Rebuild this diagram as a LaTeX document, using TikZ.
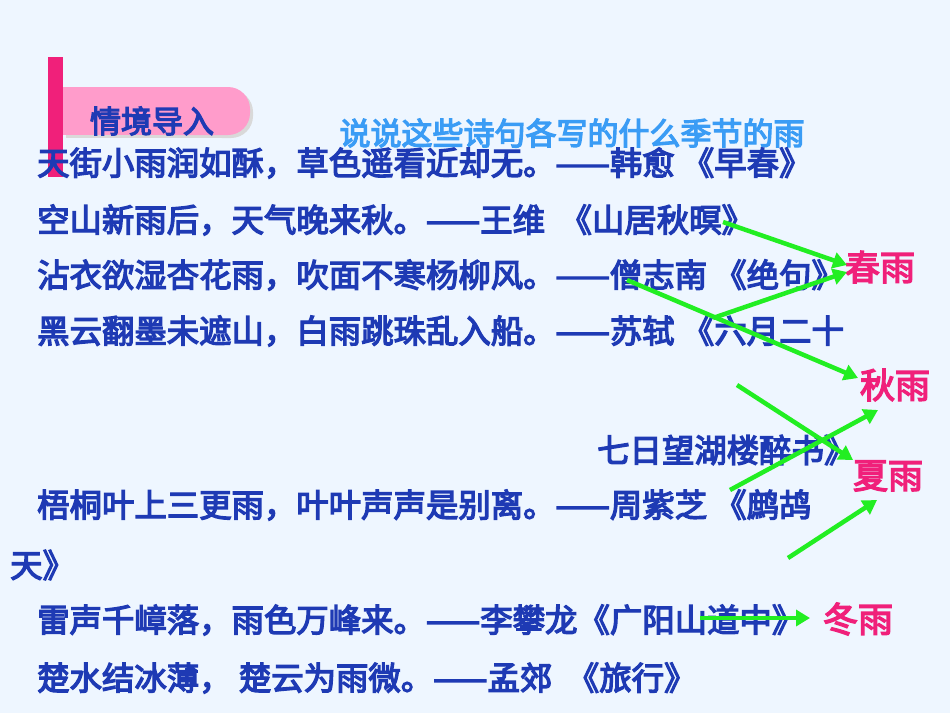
\documentclass[tikz,border=0pt]{standalone}
\usepackage{fontspec}
\newfontfamily\cjk{Noto Sans CJK SC}[FakeBold=4]
\usetikzlibrary{arrows.meta}
\definecolor{bg}{HTML}{EEF6FF}
\definecolor{txt}{HTML}{1E3AB4}
\definecolor{rose}{HTML}{F0207A}
\definecolor{pinkbox}{HTML}{FF9CCB}
\definecolor{lblue}{HTML}{3A9CF5}
\definecolor{grn}{HTML}{22EE22}
\tikzset{
  poem/.style={anchor=west,inner sep=0pt,text=txt,font=\cjk\fontsize{32.4}{33}\selectfont},
  season/.style={inner sep=0pt,text=rose,font=\cjk\fontsize{35}{36}\selectfont},
  arr/.style={draw=grn,line width=4.5pt,-{Triangle[length=14pt,width=16pt]}}
}
\begin{document}
\begin{tikzpicture}[x=1pt,y=-1pt]
\fill[bg] (0,0) rectangle (950,713);
\useasboundingbox (0,0) rectangle (950,713);
\fill[gray!30] (66,90) rectangle (230,138);
\fill[gray!30,rounded corners=22pt] (200,90) rectangle (253,138);
\fill[pinkbox,rounded corners=22pt] (150,87) rectangle (250,135);
\fill[pinkbox] (63,87) rectangle (200,135);
\fill[rose] (48,57) rectangle (63,177);
\node[text=txt,font=\cjk\fontsize{31}{32}\selectfont,inner sep=0pt] (hd) at (152,121) {情境导入};
\node[text=lblue,font=\cjk\fontsize{31}{32}\selectfont,inner sep=0pt] (q) at (572,133) {说说这些诗句各写的什么季节的雨};
\node[poem] (l1) at (37,163) {天街小雨润如酥，草色遥看近却无。——韩愈 《早春》};
\node[poem] (l2) at (37,220) {空山新雨后，天气晚来秋。——王维\ \ 《山居秋暝》};
\node[poem] (l3) at (37,275) {沾衣欲湿杏花雨，吹面不寒杨柳风。——僧志南 《绝句》};
\node[poem] (l4) at (37,331) {黑云翻墨未遮山，白雨跳珠乱入船。——苏轼 《六月二十};
\node[poem] (l5) at (597,450) {七日望湖楼醉书》};
\node[poem] (l6) at (37,505) {梧桐叶上三更雨，叶叶声声是别离。——周紫芝 《鹧鸪};
\node[poem] (l7) at (10,565) {天》};
\node[poem] (l8) at (37,620) {雷声千嶂落，雨色万峰来。——李攀龙《广阳山道中》};
\node[poem] (l9) at (37,678) {楚水结冰薄，\ 楚云为雨微。——孟郊\ \ 《旅行》};
\node[season] (chun) at (880,267) {春雨};
\node[season] (qiu) at (895,385) {秋雨};
\node[season] (xia) at (888,476) {夏雨};
\node[season] (dong) at (858,619) {冬雨};
\coordinate (a1) at (723,222); \coordinate (a2) at (713,318);
\coordinate (a3) at (627,280); \coordinate (a4) at (737,385);
\coordinate (a5) at (730,490); \coordinate (a6) at (788,558);
\coordinate (a7) at (700,618);
\coordinate (e1) at (847,265); \coordinate (e2) at (847,272);
\coordinate (e3) at (858,378); \coordinate (e4) at (853,460);
\coordinate (e5) at (878,410); \coordinate (e6) at (877,500);
\coordinate (e7) at (810,618);
\draw[arr] (a1) -- (e1);
\draw[arr] (a2) -- (e2);
\draw[arr] (a3) -- (e3);
\draw[arr] (a4) -- (e4);
\draw[arr] (a5) -- (e5);
\draw[arr] (a6) -- (e6);
\draw[arr] (a7) -- (e7);
\end{tikzpicture}
\end{document}
